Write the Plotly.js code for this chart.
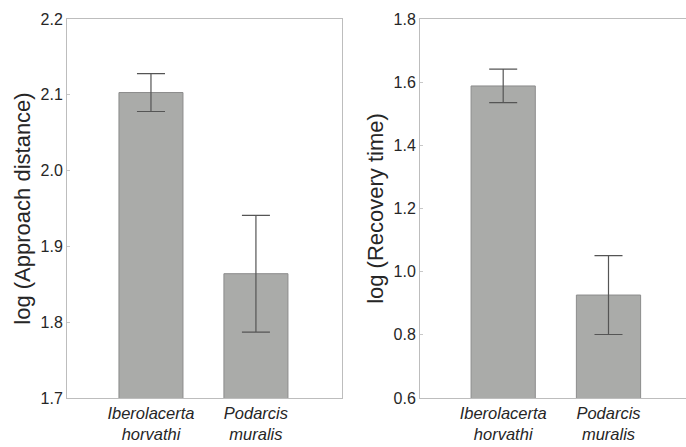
<!DOCTYPE html>
<html>
<head>
<meta charset="utf-8">
<script src="https://cdn.plot.ly/plotly-3.0.1.min.js"></script>
<style>html,body{margin:0;padding:0;background:#fff;}#chart{width:686px;height:447px;}</style>
</head>
<body>
<div id="chart"></div>
<script>
// Data
const species = ["Iberolacerta<br>horvathi", "Podarcis<br>muralis"];
const approachMean = [2.103, 1.864];
const approachErr = [0.025, 0.077];
const recoveryMean = [1.588, 0.926];
const recoveryErr = [0.053, 0.125];
const approachTicks = [1.7, 1.8, 1.9, 2.0, 2.1, 2.2];
const approachTickText = ["1.7", "1.8", "1.9", "2.0", "2.1", "2.2"];
const recoveryTicks = [0.6, 0.8, 1.0, 1.2, 1.4, 1.6, 1.8];
const recoveryTickText = ["0.6", "0.8", "1.0", "1.2", "1.4", "1.6", "1.8"];
const yTitles = ["log (Approach distance)", "log (Recovery time)"];

const barColor = "#aaaba9";
const barLine = "#8c8c8c";
const errColor = "#555555";
const textColor = "#262626";

function barTrace(y, err, xa, ya) {
  return {
    type: "bar",
    x: species,
    y: y,
    xaxis: xa,
    yaxis: ya,
    width: 0.61,
    marker: {color: barColor, line: {color: barLine, width: 1}},
    error_y: {type: "data", array: err, visible: true, color: errColor, thickness: 1.2, width: 14},
    hoverinfo: "none"
  };
}

const data = [
  barTrace(approachMean, approachErr, "x", "y"),
  barTrace(recoveryMean, recoveryErr, "x2", "y2")
];

const fontFam = "Liberation Sans, Arial, sans-serif";
const xCommon = {
  type: "category",
  showline: true, mirror: true, linecolor: "#bdbdbd", linewidth: 1,
  ticks: "", showgrid: false, zeroline: false,
  tickfont: {family: fontFam, size: 16.5, color: textColor, style: "italic"},
  fixedrange: true
};
const yCommon = {
  showline: true, mirror: true, linecolor: "#bdbdbd", linewidth: 1,
  ticks: "inside", ticklen: 3, tickcolor: "#c8c8c8",
  showgrid: false, zeroline: false,
  tickfont: {family: fontFam, size: 16, color: textColor},
  fixedrange: true
};

const layout = {
  width: 686, height: 447,
  margin: {l: 0, r: 0, t: 19, b: 49},
  paper_bgcolor: "#fff", plot_bgcolor: "#fff",
  showlegend: false,
  bargap: 0,
  font: {family: fontFam, color: textColor},
  xaxis: Object.assign({}, xCommon, {domain: [67/686, 342/686], range: [-0.8, 1.82], anchor: "y"}),
  xaxis2: Object.assign({}, xCommon, {domain: [420/686, 1], range: [-0.79, 1.736], anchor: "y2"}),
  yaxis: Object.assign({}, yCommon, {
    anchor: "x", range: [1.7, 2.2], tickvals: approachTicks, ticktext: approachTickText,
    title: {text: yTitles[0], font: {family: fontFam, size: 22, color: textColor}, standoff: 3}
  }),
  yaxis2: Object.assign({}, yCommon, {
    anchor: "x2", range: [0.6, 1.8], tickvals: recoveryTicks, ticktext: recoveryTickText,
    title: {text: yTitles[1], font: {family: fontFam, size: 22, color: textColor}, standoff: 3}
  })
};

Plotly.newPlot("chart", data, layout, {displayModeBar: false, staticPlot: true});
</script>
</body>
</html>
